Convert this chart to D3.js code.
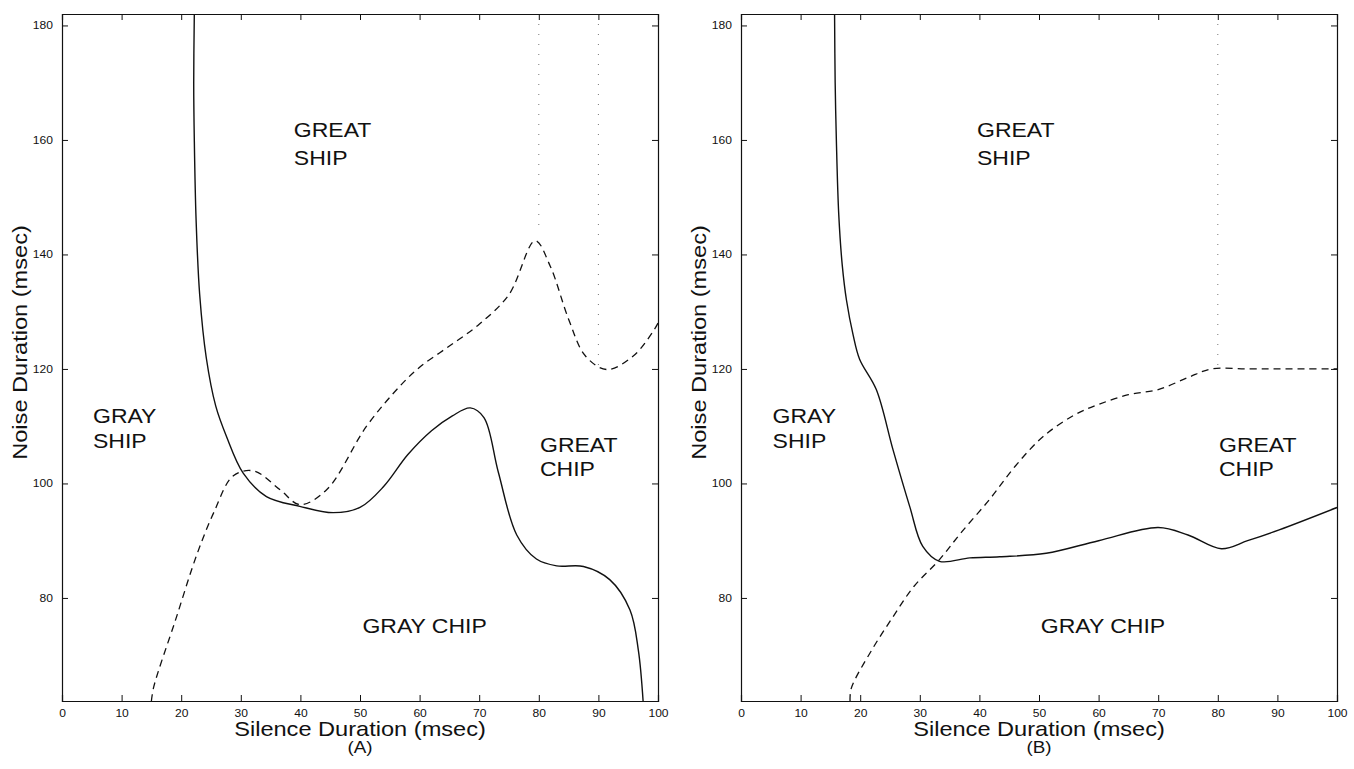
<!DOCTYPE html>
<html>
<head>
<meta charset="utf-8">
<script src="https://cdn.jsdelivr.net/npm/d3@7"></script>
<style>
  body { margin: 0; background: #fff; }
  text { font-family: "Liberation Sans", Arial, Helvetica, sans-serif; fill: #111; }
</style>
</head>
<body>
<svg id="chart" width="1354" height="769"></svg>
<script>
// tick values
var xTicks = [0, 10, 20, 30, 40, 50, 60, 70, 80, 90, 100];
var yTicks = [80, 100, 120, 140, 160, 180];

// panel A boundaries (silence ms, noise ms)
var solidA = [[22.2,182],[22.1,170],[22.2,160],[22.5,146],[23.1,133],[24.2,122],[25.8,113.5],[27.6,108.2],[30.4,101.8],
  [34.3,97.7],[39.9,96.0],[45.5,94.9],[50,95.8],[54,99.5],[58,105],[62,109.2],[65.5,111.8],[68.5,113.2],[70.8,111.5],
  [73.2,102],[76.3,91],[79.6,86.8],[83,85.6],[87.5,85.5],[91.9,83.2],[95.3,77.9],[96.7,70.9],[97.5,62]];
var dashA = [[15.0,62],[15.4,64.5],[19,76],[22.6,87.5],[25.5,95],[28.7,101.3],[32.1,102.2],[36.6,98.9],[39.9,96.3],
  [44.4,98.9],[51.1,110],[56.7,117],[60,120.3],[65,124],[70,127.8],[75,133],[79.4,142.4],[81.9,138],[85,128.7],
  [87.8,122.3],[91.4,119.9],[95.9,122.3],[99.2,126.6],[100,128]];

// panel B boundaries
var solidB = [[15.7,182],[15.8,170],[16.0,160],[16.4,147],[17.0,138],[17.7,132],[18.8,126],[19.9,121.7],[22.7,116.4],
  [25.5,105.9],[28.3,96],[30.5,89],[33.3,86.4],[38.4,87],[43.4,87.2],[51.2,87.8],[60,90],[70,92.3],[75,91],
  [80.6,88.6],[85,90],[90.3,91.9],[100,95.8]];
var dashB = [[18.3,62],[18.5,64.2],[22,71],[25.5,76.7],[29,82],[33.3,86.7],[37,91.5],[41.7,97.2],[46,103],[50.7,108.2],
  [56,112],[60,113.8],[65,115.5],[70,116.4],[75,118.5],[78.9,120],[85,120],[90,120],[95,120],[100,120]];

// faint dotted remnants of the grid: [x, yFrom, yTo]
var dotsA = [[90,182,120],[80,182,145]];
var dotsB = [[80,182,120]];

// region names: second line lies [gap] px under the first
var regionsA = [
  {lines:["GREAT","SHIP"], x:38.9, y:160.5, gap:28},
  {lines:["GRAY","SHIP"], x:5.2, y:110.6, gap:25},
  {lines:["GREAT","CHIP"], x:80.2, y:105.5, gap:24},
  {lines:["GRAY CHIP"], x:50.4, y:73.9, gap:0}
];
var regionsB = [
  {lines:["GREAT","SHIP"], x:39.6, y:160.5, gap:28},
  {lines:["GRAY","SHIP"], x:5.3, y:110.6, gap:25},
  {lines:["GREAT","CHIP"], x:80.2, y:105.5, gap:24},
  {lines:["GRAY CHIP"], x:50.3, y:73.9, gap:0}
];

var svg = d3.select("#chart");
var stretch = 1.18;

function label(g, x, y, str, size, anchor, rot) {
  var t = "translate(" + x + "," + y + ")" + (rot ? " rotate(" + rot + ")" : "") + " scale(" + stretch + ",1)";
  return g.append("text").attr("transform", t).attr("font-size", size)
    .attr("text-anchor", anchor || "start").text(str);
}

function panel(left, right, solid, dash, dots, regions, tag, yLabX) {
  var top = 14, bottom = 701;
  var x = d3.scaleLinear().domain([0, 100]).range([left, right]);
  var y = d3.scaleLinear().domain([62, 182]).range([bottom, top]);
  var g = svg.append("g");

  // dotted grid remnants
  dots.forEach(function (d) {
    g.append("line").attr("x1", x(d[0])).attr("x2", x(d[0])).attr("y1", y(d[1])).attr("y2", y(d[2]))
      .attr("stroke", "#777").attr("stroke-width", 1).attr("stroke-dasharray", "1,9");
  });

  // axes with inward ticks
  var ax = [
    g.append("g").attr("transform", "translate(0," + bottom + ")").call(d3.axisBottom(x).tickValues(xTicks).tickSize(-6).tickPadding(9)),
    g.append("g").attr("transform", "translate(0," + top + ")").call(d3.axisTop(x).tickValues(xTicks).tickSize(-6).tickFormat("")),
    g.append("g").attr("transform", "translate(" + left + ",0)").call(d3.axisLeft(y).tickValues(yTicks).tickSize(-6).tickPadding(6)),
    g.append("g").attr("transform", "translate(" + right + ",0)").call(d3.axisRight(y).tickValues(yTicks).tickSize(-6).tickFormat(""))
  ];
  ax.forEach(function (a) {
    a.select(".domain").attr("stroke", "#111").attr("stroke-width", 1.2);
    a.selectAll(".tick line").attr("stroke", "#111");
    a.selectAll(".tick text").attr("font-size", 10.5).attr("fill", "#222")
      .attr("font-family", "'Liberation Sans', Arial, sans-serif");
  });
  // stretch tick labels a touch like the scan
  ax[0].selectAll(".tick text").attr("transform", "scale(1.15,1)").attr("x", 0);
  ax[2].selectAll(".tick text").attr("transform", "translate(-9,0) scale(1.15,1)").attr("x", 0);

  var line = d3.line().x(function (d) { return x(d[0]); }).y(function (d) { return y(d[1]); })
    .curve(d3.curveCatmullRom.alpha(0.5));

  g.append("path").datum(solid).attr("d", line).attr("fill", "none")
    .attr("stroke", "#111").attr("stroke-width", 1.4);
  g.append("path").datum(dash).attr("d", line).attr("fill", "none")
    .attr("stroke", "#111").attr("stroke-width", 1.3).attr("stroke-dasharray", "7,5");

  regions.forEach(function (r) {
    r.lines.forEach(function (s, i) {
      label(g, x(r.x), y(r.y) + i * r.gap, s, 19.5, "start");
    });
  });

  label(g, (left + right) / 2, 736, "Silence Duration (msec)", 20, "middle");
  label(g, (left + right) / 2, 753, tag, 16, "middle");
  label(g, yLabX, (top + bottom) / 2 - 15, "Noise Duration (msec)", 20, "middle", -90);
}

panel(62, 658, solidA, dashA, dotsA, regionsA, "(A)", 27);
panel(741, 1337, solidB, dashB, dotsB, regionsB, "(B)", 706);
</script>
</body>
</html>
